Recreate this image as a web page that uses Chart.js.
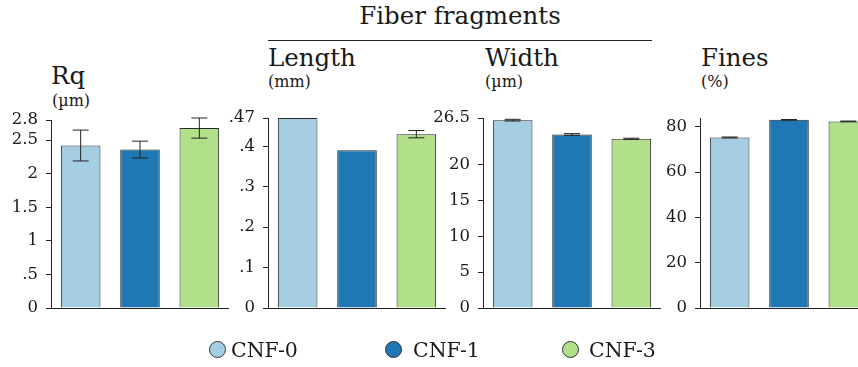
<!DOCTYPE html>
<html>
<head>
<meta charset="utf-8">
<script src="https://cdn.jsdelivr.net/npm/chart.js@4/dist/chart.umd.min.js"></script>
<style>
  html, body { margin: 0; padding: 0; background: #fff; }
  body { width: 858px; height: 367px; position: relative; overflow: hidden; font-family: "DejaVu Serif", serif; color: #1a1a1a; }
  .cv { position: absolute; }
  .t { position: absolute; white-space: nowrap; line-height: 1; }
  .big { font-size: 24.5px; }
  .sub { font-size: 16px; }
  .rule { position: absolute; height: 0; border-top: 1.2px solid #222; }
  .dot { position: absolute; width: 15px; height: 15px; border: 1px solid #333; border-radius: 50%; }
  .leg { position: absolute; font-size: 20.5px; line-height: 1; white-space: nowrap; }
</style>
</head>
<body>
<div class="t big" style="left:0;width:920px;top:4px;text-align:center;">Fiber fragments</div>
<div class="rule" style="left:268px;width:384px;top:40px;"></div>

<div class="t big" style="left:51px;top:64px;">Rq</div>
<div class="t sub" style="left:52px;top:93px;">(µm)</div>
<div class="t big" style="left:268px;top:46px;">Length</div>
<div class="t sub" style="left:268px;top:74px;">(mm)</div>
<div class="t big" style="left:485px;top:46px;">Width</div>
<div class="t sub" style="left:485px;top:74px;">(µm)</div>
<div class="t big" style="left:701px;top:46px;">Fines</div>
<div class="t sub" style="left:701px;top:74px;">(%)</div>

<canvas id="c1" class="cv" style="left:1px;top:95px;"></canvas>
<canvas id="c2" class="cv" style="left:218px;top:93px;"></canvas>
<canvas id="c3" class="cv" style="left:433px;top:93px;"></canvas>
<canvas id="c4" class="cv" style="left:650px;top:93px;"></canvas>

<div id="legend"></div>

<script>
// ---- data ----
const categories = ['CNF-0', 'CNF-1', 'CNF-3'];
const colors = ['#a6cee3', '#1f78b4', '#b2df8a'];

const rqValues = [2.42, 2.36, 2.68];
const rqErrors = [0.23, 0.125, 0.15];
const rqTicks = [0, 0.5, 1, 1.5, 2, 2.5, 2.8];
const rqTickLabels = ['0', '.5', '1', '1.5', '2', '2.5', '2.8'];

const lengthValues = [0.47, 0.39, 0.43];
const lengthErrors = [0, 0, 0.009];
const lengthTicks = [0, 0.1, 0.2, 0.3, 0.4, 0.47];
const lengthTickLabels = ['0', '.1', '.2', '.3', '.4', '.47'];

const widthValues = [26.2, 24.2, 23.6];
const widthErrors = [0.12, 0.12, 0.08];
const widthTicks = [0, 5, 10, 15, 20, 26.5];
const widthTickLabels = ['0', '5', '10', '15', '20', '26.5'];

const finesValues = [75.3, 83.1, 82.4];
const finesErrors = [0.2, 0.15, 0.15];
const finesTicks = [0, 20, 40, 60, 80];
const finesTickLabels = ['0', '20', '40', '60', '80'];
const finesMax = 83.9;

// ---- drawing ----
const AXIS = '#222';
const FONT = "'DejaVu Serif', serif";
const YW = 50;       // y-axis box width
const PAD = 25;      // vertical padding (larger than tick label overhang)

const errorBars = {
  id: 'errorBars',
  afterDatasetsDraw(chart, args, opts) {
    const errs = opts.errors || [];
    const meta = chart.getDatasetMeta(0);
    const ys = chart.scales.y;
    const vals = chart.data.datasets[0].data;
    const ctx = chart.ctx;
    ctx.save();
    ctx.strokeStyle = '#222';
    ctx.lineWidth = 1;
    meta.data.forEach((bar, i) => {
      const e = errs[i];
      if (!e) return;
      const yt = ys.getPixelForValue(vals[i] + e);
      const yb = ys.getPixelForValue(vals[i] - e);
      const x = bar.x;
      const cw = 8;
      ctx.beginPath();
      ctx.moveTo(x, yt); ctx.lineTo(x, yb);
      ctx.moveTo(x - cw, yt); ctx.lineTo(x + cw, yt);
      ctx.moveTo(x - cw, yb); ctx.lineTo(x + cw, yb);
      ctx.stroke();
    });
    ctx.restore();
  }
};

function makePanel(id, values, errors, ticks, tickLabels, max, plotH) {
  const el = document.getElementById(id);
  const plotW = 178;
  el.width = YW + plotW;
  el.height = PAD + plotH + PAD;
  el.style.width = el.width + 'px';
  el.style.height = el.height + 'px';
  return new Chart(el, {
    type: 'bar',
    data: {
      labels: categories,
      datasets: [{
        data: values,
        backgroundColor: colors,
        borderColor: '#2a2a2a',
        borderWidth: 1,
        barPercentage: 0.667,
        categoryPercentage: 1
      }]
    },
    options: {
      responsive: false,
      animation: false,
      devicePixelRatio: 1,
      layout: { padding: { top: PAD, bottom: PAD, left: 0, right: 0 } },
      plugins: {
        legend: { display: false },
        tooltip: { enabled: false },
        errorBars: { errors: errors }
      },
      scales: {
        x: {
          offset: true,
          ticks: { display: false },
          grid: { display: false, drawTicks: false, tickLength: 0 },
          border: { display: true, color: AXIS, width: 1 },
          afterFit(s) { s.height = 0; }
        },
        y: {
          min: 0,
          max: max,
          afterBuildTicks(s) { s.ticks = ticks.map(v => ({ value: v })); },
          ticks: {
            autoSkip: false,
            padding: 8,
            color: '#1a1a1a',
            font: { family: FONT, size: 16.5 },
            callback(v) {
              const i = ticks.indexOf(v);
              return i >= 0 ? tickLabels[i] : '';
            }
          },
          grid: { display: true, drawOnChartArea: false, drawTicks: true, tickLength: 5, color: AXIS },
          border: { display: true, color: AXIS, width: 1 },
          afterFit(s) { s.width = YW; }
        }
      }
    },
    plugins: [errorBars]
  });
}

makePanel('c1', rqValues, rqErrors, rqTicks, rqTickLabels, 2.8, 188);
makePanel('c2', lengthValues, lengthErrors, lengthTicks, lengthTickLabels, 0.47, 190);
makePanel('c3', widthValues, widthErrors, widthTicks, widthTickLabels, 26.5, 190);
makePanel('c4', finesValues, finesErrors, finesTicks, finesTickLabels, finesMax, 190);

// ---- legend (HTML) ----
const legendX = [209, 385, 562];
const legendTextX = [231, 413, 589];
const leg = document.getElementById('legend');
categories.forEach((c, i) => {
  const d = document.createElement('div');
  d.className = 'dot';
  d.style.left = legendX[i] + 'px';
  d.style.top = '341px';
  d.style.background = colors[i];
  leg.appendChild(d);
  const t = document.createElement('div');
  t.className = 'leg';
  t.style.left = legendTextX[i] + 'px';
  t.style.top = '340px';
  t.textContent = c;
  leg.appendChild(t);
});
</script>
</body>
</html>
